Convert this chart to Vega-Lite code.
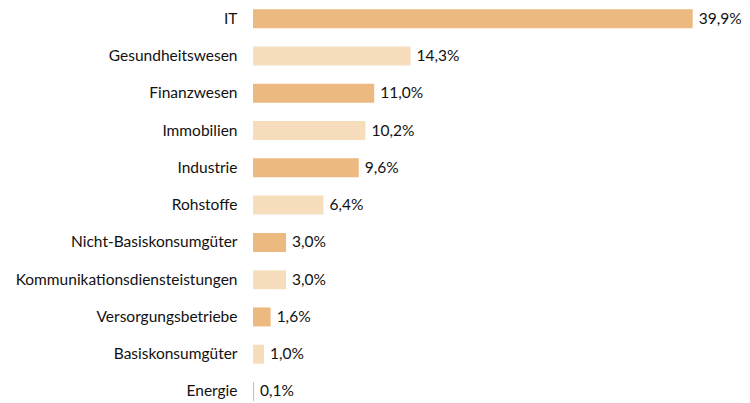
{
  "$schema": "https://vega.github.io/schema/vega-lite/v6.json",
  "autosize": {"type": "none"},
  "padding": {"left": 253, "top": 0, "right": 0, "bottom": 0},
  "width": 497,
  "height": 403,
  "background": "white",
  "config": {"view": {"stroke": null}, "font": "Lato"},
  "data": {
    "values": [
      {"sektor": "IT", "anteil": 39.9},
      {"sektor": "Gesundheitswesen", "anteil": 14.3},
      {"sektor": "Finanzwesen", "anteil": 11.0},
      {"sektor": "Immobilien", "anteil": 10.2},
      {"sektor": "Industrie", "anteil": 9.6},
      {"sektor": "Rohstoffe", "anteil": 6.4},
      {"sektor": "Nicht-Basiskonsumgüter", "anteil": 3.0},
      {"sektor": "Kommunikationsdiensteistungen", "anteil": 3.0},
      {"sektor": "Versorgungsbetriebe", "anteil": 1.6},
      {"sektor": "Basiskonsumgüter", "anteil": 1.0},
      {"sektor": "Energie", "anteil": 0.1}
    ]
  },
  "transform": [
    {"window": [{"op": "row_number", "as": "rang"}]},
    {"calculate": "replace(format(datum.anteil, '.1f'), '.', ',') + '%'", "as": "beschriftung"}
  ],
  "encoding": {
    "y": {
      "field": "sektor",
      "type": "nominal",
      "sort": null,
      "scale": {"paddingInner": 0.49, "paddingOuter": 0.1515, "align": 0.82},
      "axis": {
        "title": null,
        "domain": false,
        "ticks": false,
        "labelPadding": 16,
        "labelFontSize": 15.5,
        "labelLimit": 400,
        "labelColor": "#111111",
        "labelFont": "Lato"
      }
    },
    "x": {
      "field": "anteil",
      "type": "quantitative",
      "scale": {"domain": [0, 45.1], "nice": false},
      "axis": null
    }
  },
  "layer": [
    {
      "mark": {"type": "bar"},
      "encoding": {
        "color": {
          "condition": {"test": "datum.rang % 2 == 1", "value": "#ECBA80"},
          "value": "#F6DEBD"
        }
      }
    },
    {
      "mark": {"type": "text", "align": "left", "baseline": "middle", "dx": 6, "fontSize": 15.5, "color": "#111111", "font": "Lato"},
      "encoding": {"text": {"field": "beschriftung"}}
    }
  ]
}
